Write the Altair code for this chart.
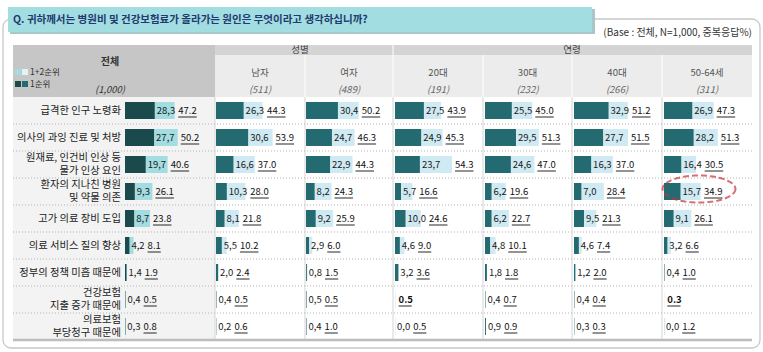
import math
import altair as alt
import pandas as pd

W, H = 763, 352
K = 1.05  # pixels per percentage point
FONT = "Noto Sans CJK KR"

# ---------------- data ----------------
columns = ["전체", "남자", "여자", "20대", "30대", "40대", "50-64세"]
col_n = ["(1,000)", "(511)", "(489)", "(191)", "(232)", "(266)", "(311)"]
row_labels = [
    "급격한 인구 노령화",
    "의사의 과잉 진료 및 처방",
    "원재료, 인건비 인상 등\n물가 인상 요인",
    "환자의 지나친 병원\n및 약물 의존",
    "고가 의료 장비 도입",
    "의료 서비스 질의 향상",
    "정부의 정책 미흡 때문에",
    "건강보험\n지출 증가 때문에",
    "의료보험\n부당청구 때문에",
]
r1_total = [28.3, 27.7, 19.7, 9.3, 8.7, 4.2, 1.4, 0.4, 0.3]
r12_total = [47.2, 50.2, 40.6, 26.1, 23.8, 8.1, 1.9, 0.5, 0.8]
r1_male = [26.3, 30.6, 16.6, 10.3, 8.1, 5.5, 2.0, 0.4, 0.2]
r12_male = [44.3, 53.9, 37.0, 28.0, 21.8, 10.2, 2.4, 0.5, 0.6]
r1_female = [30.4, 24.7, 22.9, 8.2, 9.2, 2.9, 0.8, 0.5, 0.4]
r12_female = [50.2, 46.3, 44.3, 24.3, 25.9, 6.0, 1.5, 0.5, 1.0]
r1_20s = [27.5, 24.9, 23.7, 5.7, 10.0, 4.6, 3.2, None, 0.0]
r12_20s = [43.9, 45.3, 54.3, 16.6, 24.6, 9.0, 3.6, 0.5, 0.5]
r1_30s = [25.5, 29.5, 24.6, 6.2, 6.2, 4.8, 1.8, 0.4, 0.9]
r12_30s = [45.0, 51.3, 47.0, 19.6, 22.7, 10.1, 1.8, 0.7, 0.9]
r1_40s = [32.9, 27.7, 16.3, 7.0, 9.5, 4.6, 1.2, 0.4, 0.3]
r12_40s = [51.2, 51.5, 37.0, 28.4, 21.3, 7.4, 2.0, 0.4, 0.3]
r1_50s = [26.9, 28.2, 16.4, 15.7, 9.1, 3.2, 0.4, None, 0.0]
r12_50s = [47.3, 51.3, 30.5, 34.9, 26.1, 6.6, 1.0, 0.3, 1.2]

r1_lists = [r1_total, r1_male, r1_female, r1_20s, r1_30s, r1_40s, r1_50s]
r12_lists = [r12_total, r12_male, r12_female, r12_20s, r12_30s, r12_40s, r12_50s]

# ---------------- layout ----------------
bar_start = [125, 216, 306, 395, 485, 574, 664]
seps = [215, 305, 393, 483, 572, 662, 752]
ROW_TOP, ROW_BOT = 97, 340
NROW = 9
ROW_PX = (ROW_BOT - ROW_TOP) / NROW
BAR_H = 17
GAP = 3
NUM_FS = 9.5
LINE_H = 13

dark_c = ["#1b4a4c"] + ["#236b71"] * 6
light_c = ["#a3dce1"] + ["#cfeaf2"] * 6


def tw(s):
    return sum(5.3 if ch.isdigit() else 2.6 for ch in s)


recs = []
for c in range(7):
    off = bar_start[c] / K
    for i in range(NROW):
        v1 = r1_lists[c][i]
        v12 = r12_lists[c][i]
        t2 = f"{v12:.1f}"
        rec = dict(
            col=columns[c], row=i, off=off, xl=off + v12,
            yc=i + 0.5, yt=i + 0.5 - BAR_H / 2 / ROW_PX, yb=i + 0.5 + BAR_H / 2 / ROW_PX,
            uy=i + 0.5 + 6.5 / ROW_PX, dc=dark_c[c], lc=light_c[c], t2=t2,
        )
        if v1 is None:
            rec.update(v1=None, xd=None, t1="", lab1=None,
                       lab2=off + v12 + 3 / K, bold=True)
        else:
            t1 = f"{v1:.1f}".replace(".", ",")
            lab2 = off + max(v12 + 3 / K, v1 + (2 + tw(t1) + GAP) / K)
            rec.update(v1=v1, xd=off + v1, t1=t1, lab1=off + v1 + 2 / K,
                       lab2=lab2, bold=False)
        rec["ul2"] = rec["lab2"] + tw(t2) / K
        recs.append(rec)
df = pd.DataFrame(recs)
df_d = df[df["v1"].notna()]
df_norm = df[~df["bold"]]
df_bold = df[df["bold"]]

xs = alt.Scale(domain=[0, W / K], range=[0, W], nice=False, zero=False)
ys = alt.Scale(domain=[0, NROW], range=[ROW_TOP, ROW_BOT], nice=False, zero=False)


def X(f):
    return alt.X(f, scale=xs, axis=None)


def Y(f):
    return alt.Y(f, scale=ys, axis=None)


def PX(f):
    return alt.X(f, scale=None, axis=None)


def PY(f):
    return alt.Y(f, scale=None, axis=None)


# ---------------- decorations ----------------
boxes = pd.DataFrame([
    dict(x=10, x2=595, y=9, y2=34, c="#a9c7c9"),
    dict(x=8, x2=592, y=7, y2=32, c="#a2dde1"),
    dict(x=13, x2=215, y=45, y2=ROW_TOP, c="#c6c6c6"),
    dict(x=215, x2=752, y=45, y2=55, c="#d4d4d4"),
    dict(x=215, x2=752, y=55, y2=ROW_TOP, c="#ececec"),
    dict(x=13, x2=215, y=ROW_TOP, y2=ROW_BOT, c="#f3f3f3"),
])
outer = alt.Chart(pd.DataFrame([dict(x=3, x2=760, y=19, y2=348)])).mark_rect(
    fill="white", stroke="#c8c8c8", strokeWidth=1.3, cornerRadius=8
).encode(x=PX("x:Q"), x2="x2:Q", y=PY("y:Q"), y2="y2:Q")

rects = alt.Chart(boxes).mark_rect().encode(
    x=PX("x:Q"), x2="x2:Q", y=PY("y:Q"), y2="y2:Q", color=alt.Color("c:N", scale=None)
)

hsep = pd.DataFrame([dict(x=s, y=(45 if s == 393 else 55), y2=ROW_TOP) for s in seps[1:-1]])
head_seps = alt.Chart(hsep).mark_rule(color="white", strokeWidth=1).encode(
    x=PX("x:Q"), y=PY("y:Q"), y2="y2:Q"
)
bsep = pd.DataFrame([dict(x=s, y=ROW_TOP, y2=ROW_BOT) for s in seps[:-1]])
body_seps = alt.Chart(bsep).mark_rule(color="#d4d4d4", strokeWidth=1).encode(
    x=PX("x:Q"), y=PY("y:Q"), y2="y2:Q"
)
row_lines = alt.Chart(pd.DataFrame({"k": list(range(1, NROW))})).mark_rule(
    color="#b3b3b3", strokeWidth=1, strokeDash=[1, 2]
).encode(x=alt.value(13), x2=alt.value(752), y=Y("k:Q"))
bottom_line = alt.Chart(pd.DataFrame({"k": [NROW]})).mark_rule(
    color="#bdbdbd", strokeWidth=2.5
).encode(x=alt.value(13), x2=alt.value(752), y=Y("k:Q"))

# ---------------- bars ----------------
light_bars = alt.Chart(df).mark_rect().encode(
    x=X("off:Q"), x2="xl:Q", y=Y("yt:Q"), y2="yb:Q", color=alt.Color("lc:N", scale=None)
)
dark_bars = alt.Chart(df_d).mark_rect().encode(
    x=X("off:Q"), x2="xd:Q", y=Y("yt:Q"), y2="yb:Q", color=alt.Color("dc:N", scale=None)
)

lab1 = alt.Chart(df_d).mark_text(
    align="left", baseline="middle", font=FONT, fontSize=NUM_FS, color="#1a1a1a"
).encode(x=X("lab1:Q"), y=Y("yc:Q"), text="t1:N")
lab2 = alt.Chart(df_norm).mark_text(
    align="left", baseline="middle", font=FONT, fontSize=NUM_FS, color="#111111"
).encode(x=X("lab2:Q"), y=Y("yc:Q"), text="t2:N")
lab2b = alt.Chart(df_bold).mark_text(
    align="left", baseline="middle", font=FONT, fontSize=NUM_FS, fontWeight="bold", color="#111111"
).encode(x=X("lab2:Q"), y=Y("yc:Q"), text="t2:N")
underline = alt.Chart(df).mark_rule(color="#111111", strokeWidth=0.9).encode(
    x=X("lab2:Q"), x2="ul2:Q", y=Y("uy:Q")
)

row_df = pd.DataFrame({
    "lab": row_labels,
    "yl": [i + 0.5 - (lab.count("\n")) * LINE_H / 2 / ROW_PX for i, lab in enumerate(row_labels)],
})
rowlab = alt.Chart(row_df).mark_text(
    align="right", baseline="middle", font=FONT, fontSize=10.3, color="#222222",
    lineBreak="\n", lineHeight=LINE_H
).encode(x=alt.value(121), y=Y("yl:Q"), text="lab:N")

# ---------------- header texts ----------------
centers = [(seps[i] + seps[i + 1]) / 2 for i in range(6)]
head_names = pd.DataFrame({"x": centers, "y": [73] * 6, "t": columns[1:]})
head_ns = pd.DataFrame({"x": centers, "y": [90] * 6, "t": col_n[1:]})
names_layer = alt.Chart(head_names).mark_text(
    align="center", baseline="middle", font=FONT, fontSize=9.5, color="#555555"
).encode(x=PX("x:Q"), y=PY("y:Q"), text="t:N")
ns_layer = alt.Chart(head_ns).mark_text(
    align="center", baseline="middle", font=FONT, fontSize=9.5, fontStyle="italic", color="#666666"
).encode(x=PX("x:Q"), y=PY("y:Q"), text="t:N")

groups = pd.DataFrame({"x": [300, 572], "y": [50, 50], "t": ["성별", "연령"]})
groups_layer = alt.Chart(groups).mark_text(
    align="center", baseline="middle", font=FONT, fontSize=9.5, color="#444444"
).encode(x=PX("x:Q"), y=PY("y:Q"), text="t:N")

total_head = alt.Chart(pd.DataFrame({"x": [110], "y": [62], "t": [columns[0]]})).mark_text(
    align="center", baseline="middle", font=FONT, fontSize=10, fontWeight="bold", color="#333333"
).encode(x=PX("x:Q"), y=PY("y:Q"), text="t:N")
total_n = alt.Chart(pd.DataFrame({"x": [110], "y": [90], "t": [col_n[0]]})).mark_text(
    align="center", baseline="middle", font=FONT, fontSize=9.5, fontStyle="italic", color="#333333"
).encode(x=PX("x:Q"), y=PY("y:Q"), text="t:N")

leg_sq = pd.DataFrame([
    dict(x=15, x2=21, y=69, y2=75, c=light_c[0]),
    dict(x=22, x2=28, y=69, y2=75, c="#e2f3f7"),
    dict(x=15, x2=21, y=81, y2=87, c=dark_c[0]),
    dict(x=22, x2=28, y=81, y2=87, c=dark_c[1]),
])
leg_rects = alt.Chart(leg_sq).mark_rect().encode(
    x=PX("x:Q"), x2="x2:Q", y=PY("y:Q"), y2="y2:Q", color=alt.Color("c:N", scale=None)
)
leg_text = alt.Chart(pd.DataFrame({"x": [30, 30], "y": [72, 84], "t": ["1+2순위", "1순위"]})).mark_text(
    align="left", baseline="middle", font=FONT, fontSize=8.5, color="#333333"
).encode(x=PX("x:Q"), y=PY("y:Q"), text="t:N")

title = alt.Chart(pd.DataFrame({"x": [13], "y": [20],
                                "t": ["Q. 귀하께서는 병원비 및 건강보험료가 올라가는 원인은 무엇이라고 생각하십니까?"]})).mark_text(
    align="left", baseline="middle", font=FONT, fontSize=10.5, fontWeight="bold", color="#1f3a6e"
).encode(x=PX("x:Q"), y=PY("y:Q"), text="t:N")
base_note = alt.Chart(pd.DataFrame({"x": [752], "y": [33], "t": ["(Base : 전체, N=1,000, 중복응답%)"]})).mark_text(
    align="right", baseline="middle", font=FONT, fontSize=10, color="#333333"
).encode(x=PX("x:Q"), y=PY("y:Q"), text="t:N")

# ---------------- highlight ellipse ----------------
RY = 13.5 / 36.5
pts = []
for k in range(49):
    a = 2 * math.pi * k / 48
    pts.append(f"{math.cos(a):.4f},{RY * math.sin(a):.4f}")
ell_path = "M" + " L".join(pts) + " Z"
ellipse = alt.Chart(pd.DataFrame({"a": [1]})).mark_point(
    shape=ell_path, filled=False, stroke="#c8323a", strokeWidth=2, strokeDash=[6, 3], size=73 * 73
).encode(x=alt.value(699), y=alt.value(189))

chart = alt.layer(
    outer, rects, head_seps, body_seps, row_lines,
    light_bars, dark_bars, lab1, lab2, lab2b, underline, rowlab,
    names_layer, ns_layer, groups_layer, total_head, total_n, leg_rects, leg_text,
    title, base_note, bottom_line, ellipse,
).properties(
    width=W, height=H, autosize=alt.AutoSizeParams(type="none"), padding=0, background="white"
).configure_view(strokeWidth=0)

chart.save("out.html", embed_options={"renderer": "svg", "actions": False})
